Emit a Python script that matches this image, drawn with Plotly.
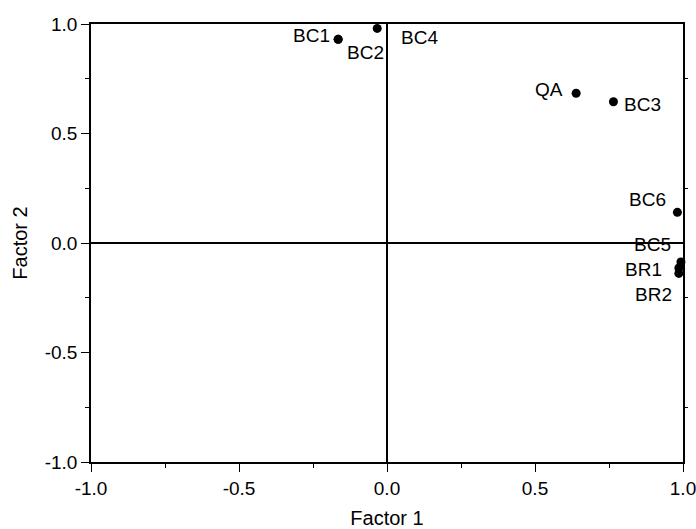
import plotly.graph_objects as go

labels = ["BC1", "BC2", "BC4", "QA", "BC3", "BC6", "BC5", "BR1", "BR2"]
factor1 = [-0.165, -0.165, -0.033, 0.639, 0.765, 0.981, 0.993, 0.986, 0.986]
factor2 = [0.930, 0.930, 0.980, 0.684, 0.645, 0.140, -0.087, -0.114, -0.139]
# label offsets in pixels (dx right, dy up)
label_dx = [-27, 27, 42, -27, 29, -30, -28, -35, -25]
label_dy = [4, -13, -9, 4, -3, 13, 18, -2, -21]

x_ticks = [-1.0, -0.5, 0.0, 0.5, 1.0]
y_ticks = [-1.0, -0.5, 0.0, 0.5, 1.0]
tick_text = ["-1.0", "-0.5", "0.0", "0.5", "1.0"]

FONT = "Liberation Sans, Arial, sans-serif"

fig = go.Figure()
fig.add_trace(go.Scatter(
    x=factor1, y=factor2, mode="markers",
    marker=dict(color="black", size=9),
    cliponaxis=False, showlegend=False, hoverinfo="text", text=labels,
))
# invisible trace to activate right axis with minor ticks
fig.add_trace(go.Scatter(x=[0], y=[0], yaxis="y2", mode="markers",
                         marker=dict(opacity=0), showlegend=False, hoverinfo="skip"))

for lab, x, y, dx, dy in zip(labels, factor1, factor2, label_dx, label_dy):
    fig.add_annotation(x=x, y=y, text=lab, showarrow=False,
                       xshift=dx, yshift=dy, xanchor="center", yanchor="middle",
                       font=dict(size=19, color="black", family=FONT))

axis_common = dict(
    range=[-1, 1], showgrid=False, zeroline=True, zerolinecolor="black",
    zerolinewidth=1.6, showline=True, linecolor="black", linewidth=1.6,
    ticks="outside", ticklen=8, tickwidth=1.3, tickcolor="black",
    tickfont=dict(size=19, color="black", family=FONT),
    minor=dict(ticks="outside", ticklen=4, tickwidth=1.3, tickcolor="black", dtick=0.25),
    automargin=False, ticklabeloverflow="allow",
)

fig.update_layout(
    width=696, height=529,
    margin=dict(l=91, r=13, t=24, b=67),
    paper_bgcolor="white", plot_bgcolor="white",
    font=dict(family=FONT, color="black"),
    xaxis=dict(**axis_common, tickvals=x_ticks, ticktext=tick_text, mirror=True,
               title=dict(text="Factor 1", font=dict(size=20), standoff=14)),
    yaxis=dict(**axis_common, tickvals=y_ticks, ticktext=tick_text, mirror=True,
               title=dict(text="Factor 2", font=dict(size=20), standoff=12)),
    yaxis2=dict(overlaying="y", side="right", range=[-1, 1], showgrid=False,
                zeroline=False, showline=False, showticklabels=False,
                tickvals=[-0.75, -0.25, 0.25, 0.75], ticks="outside", ticklen=4,
                tickwidth=1.3, tickcolor="black", automargin=False),
)

fig.write_html(
    "out.html",
    config={"displayModeBar": False},
    post_script="document.body.style.margin='0';document.body.style.overflow='hidden';",
)
